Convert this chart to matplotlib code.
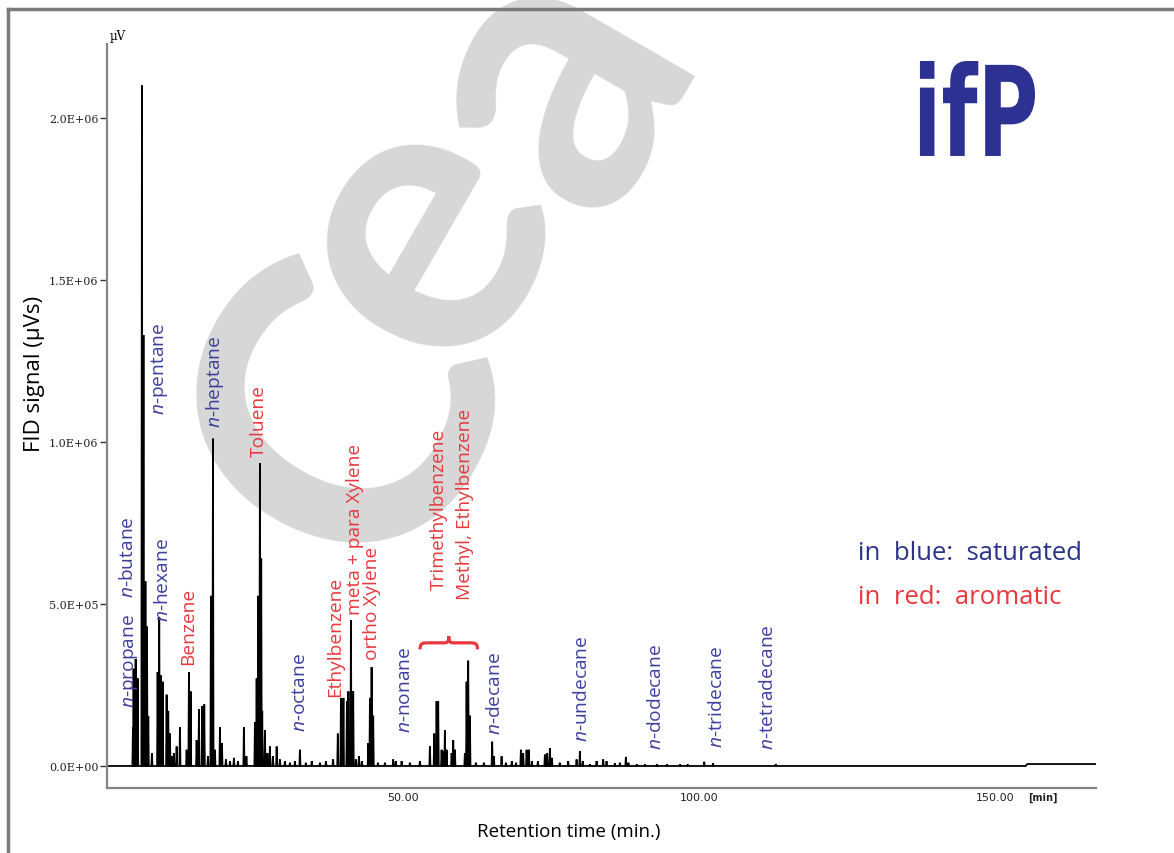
import numpy as np
import matplotlib.pyplot as plt
from matplotlib.path import Path
from matplotlib.patches import PathPatch
from matplotlib.textpath import TextPath
from matplotlib.font_manager import FontProperties
from matplotlib.transforms import Affine2D
from matplotlib.lines import Line2D
from matplotlib.ticker import FixedLocator, FixedFormatter

plt.rcParams['mathtext.fontset'] = 'custom'
plt.rcParams['mathtext.rm'] = 'Open Sans'
plt.rcParams['mathtext.it'] = 'Open Sans:italic'

# peaks: retention time (min) and height (x 1E+06 uV)
peak_time = [4.39, 4.50, 4.85, 5.19, 5.91, 6.17, 6.50, 6.76, 6.98, 7.60,
             8.56, 8.83, 9.07, 9.41, 10.08, 10.35, 10.64, 11.06, 11.30, 11.77,
             12.33, 13.46, 13.85, 14.14, 15.15, 15.54, 16.10, 16.44, 17.06, 17.57,
             17.91, 18.24, 19.09, 19.43, 20.10, 20.78, 21.45, 22.13, 23.14, 23.56,
             25.00, 25.29, 25.56, 25.84, 26.06, 26.23, 26.69, 27.11, 27.53, 28.04,
             28.67, 29.22, 30.07, 30.91, 31.76, 32.60, 33.60, 34.60, 35.98, 37.00,
             38.20, 39.00, 39.53, 39.95, 40.54, 40.79, 41.22, 41.60, 42.06, 42.57,
             43.07, 44.14, 44.43, 44.71, 44.98, 45.78, 46.96, 48.36, 48.80, 49.78,
             51.18, 52.87, 54.56, 55.29, 55.69, 55.96, 56.54, 56.81, 57.09, 57.38,
             58.23, 58.50, 58.78, 60.47, 60.76, 61.03, 61.32, 62.33, 63.68, 65.08,
             65.37, 66.67, 67.40, 68.40, 69.10, 69.93, 70.32, 70.90, 71.28, 71.80,
             72.80, 73.99, 74.37, 74.83, 75.17, 76.50, 77.92, 79.34, 79.90, 80.40,
             81.60, 82.72, 83.83, 84.40, 85.80, 86.66, 87.67, 88.10, 89.50, 90.90,
             92.90, 94.60, 96.80, 98.10, 100.90, 102.40, 113.00]
peak_height = [0.12, 0.30, 0.33, 0.27, 2.10, 1.33, 0.57, 0.43, 0.154, 0.04,
               0.29, 0.46, 0.28, 0.26, 0.22, 0.17, 0.10, 0.03, 0.04, 0.06,
               0.12, 0.05, 0.29, 0.23, 0.08, 0.175, 0.185, 0.19, 0.03, 0.525,
               1.01, 0.05, 0.12, 0.07, 0.02, 0.015, 0.025, 0.015, 0.12, 0.03,
               0.135, 0.27, 0.525, 0.935, 0.64, 0.17, 0.11, 0.04, 0.06, 0.03,
               0.06, 0.02, 0.015, 0.01, 0.015, 0.05, 0.01, 0.015, 0.01, 0.015,
               0.02, 0.10, 0.21, 0.21, 0.20, 0.23, 0.45, 0.23, 0.02, 0.03,
               0.015, 0.07, 0.21, 0.305, 0.155, 0.01, 0.01, 0.02, 0.015, 0.015,
               0.01, 0.015, 0.06, 0.10, 0.20, 0.20, 0.05, 0.045, 0.11, 0.05,
               0.04, 0.08, 0.05, 0.04, 0.26, 0.325, 0.155, 0.01, 0.01, 0.075,
               0.03, 0.03, 0.01, 0.015, 0.01, 0.05, 0.04, 0.05, 0.05, 0.015,
               0.015, 0.035, 0.04, 0.055, 0.025, 0.01, 0.015, 0.02, 0.045, 0.015,
               0.005, 0.015, 0.02, 0.015, 0.008, 0.01, 0.028, 0.01, 0.005, 0.005,
               0.005, 0.005, 0.005, 0.005, 0.013, 0.008, 0.006]
run_end = 167.0
step_time = 155.2
step_level = 0.006

# compound labels: text, time, bottom of label (x 1E+06), family
labels = ['n-propane', 'n-butane', 'n-pentane', 'n-hexane', 'Benzene', 'n-heptane',
          'Toluene', 'n-octane', 'Ethylbenzene', 'meta + para Xylene', 'ortho Xylene',
          'n-nonane', 'Trimethylbenzene', 'Methyl, Ethylbenzene', 'n-decane',
          'n-undecane', 'n-dodecane', 'n-tridecane', 'n-tetradecane']
label_time = [4.05, 3.55, 8.95, 9.46, 13.68, 18.24, 25.68, 32.6, 38.5, 41.9, 44.76,
              50.3, 56.1, 60.5, 65.5, 80.2, 92.7, 103.0, 111.7]
label_base = [0.182, 0.522, 1.086, 0.448, 0.315, 1.046, 0.957, 0.108, 0.216, 0.469,
              0.33, 0.105, 0.546, 0.515, 0.099, 0.077, 0.052, 0.059, 0.052]
label_kind = ['sat', 'sat', 'sat', 'sat', 'aro', 'sat', 'aro', 'sat', 'aro', 'aro',
              'aro', 'sat', 'aro', 'aro', 'sat', 'sat', 'sat', 'sat', 'sat']
brace_span = (52.9, 62.6)
brace_level = (0.36, 0.40)

y_ticks = [0.0, 0.5, 1.0, 1.5, 2.0]
y_tick_labels = ['0.0E+00', '5.0E+05', '1.0E+06', '1.5E+06', '2.0E+06']
x_ticks = [50, 100, 150]
x_tick_labels = ['50.00', '100.00', '150.00']

# watermark letters and where their centres sit (figure fractions)
mark_letters = ['C', 'e', 'a']
mark_x = [0.300, 0.353, 0.469]
mark_y = [0.510, 0.730, 0.907]

BLUE = '#3c3f9c'
RED = '#e8383d'
LEG_BLUE = '#2b3388'

fig = plt.figure(figsize=(11.74, 8.54), dpi=100)
fig.patch.set_facecolor('white')

# watermark behind everything
for ch, mx, my in zip(mark_letters, mark_x, mark_y):
    fig.text(mx, my, ch, fontsize=290, family='Lato', fontweight='bold',
             color='#d7d7d7', rotation=60, ha='center', va='center', zorder=0)

ax = fig.add_axes([0.0911, 0.0761, 0.8425, 0.8712])
ax.set_facecolor('none')
ax.set_zorder(2)

# build the trace as narrow spikes on a flat baseline
hw = 0.09
tx = [0.0]
ty = [0.0]
for t, h in zip(peak_time, peak_height):
    tx += [t - hw, t, t + hw]
    ty += [0.0, h * 1e6, 0.0]
tx += [step_time, step_time + 0.3, run_end]
ty += [0.0, step_level * 1e6, step_level * 1e6]
ax.plot(tx, ty, color='black', lw=1.3, solid_joinstyle='miter')

ax.set_xlim(0, 167.1)
ax.set_ylim(-0.068e6, 2.228e6)

for s in ['top', 'right']:
    ax.spines[s].set_visible(False)
for s in ['left', 'bottom']:
    ax.spines[s].set_color('#858585')
    ax.spines[s].set_linewidth(1.6)

ax.yaxis.set_major_locator(FixedLocator([v * 1e6 for v in y_ticks]))
ax.yaxis.set_major_formatter(FixedFormatter(y_tick_labels))
ax.xaxis.set_major_locator(FixedLocator(x_ticks))
ax.xaxis.set_major_formatter(FixedFormatter(x_tick_labels))
ax.tick_params(axis='y', direction='out', length=5, width=1, color='#333333',
               pad=1, labelsize=8, labelfontfamily='DejaVu Serif', labelcolor='#222222')
ax.tick_params(axis='x', length=0, pad=3, labelsize=8, labelcolor='#222222')

ax.text(0.003, 1.003, 'µV', transform=ax.transAxes, fontsize=8.5,
        family='DejaVu Serif', ha='left', va='bottom')
ax.text(0.946, -0.012, '[min]', transform=ax.transAxes, fontsize=7,
        fontweight='bold', ha='center', va='center', color='#222222')

for txt, t, b, k in zip(labels, label_time, label_base, label_kind):
    if txt.startswith('n-'):
        txt = r'$\it{n}$' + txt[1:]
    ax.text(t, b * 1e6, txt, rotation=90, ha='center', va='bottom',
            fontsize=13.8, family='Open Sans', color=BLUE if k == 'sat' else RED)

# brace over the trimethylbenzene group
x0, x1 = brace_span
y0, y1 = [v * 1e6 for v in brace_level]
u = [0, 0, 0.05, 0.15, 0.40, 0.47, 0.5, 0.5, 0.5, 0.53, 0.60, 0.85, 0.95, 1, 1]
v = [0, 0.5, 0.5, 0.5, 0.5, 0.5, 0.5, 1.0, 0.5, 0.5, 0.5, 0.5, 0.5, 0.5, 0]
codes = [Path.MOVETO, Path.CURVE4, Path.CURVE4, Path.CURVE4, Path.LINETO,
         Path.CURVE4, Path.CURVE4, Path.CURVE4, Path.CURVE4, Path.CURVE4, Path.CURVE4,
         Path.LINETO, Path.CURVE4, Path.CURVE4, Path.CURVE4]
verts = [(x0 + a * (x1 - x0), y0 + c * (y1 - y0)) for a, c in zip(u, v)]
ax.add_patch(PathPatch(Path(verts, codes), facecolor='none', edgecolor=RED, lw=2.3))

# axis titles
fig.text(0.4847, 0.0258, 'Retention time (min.)', fontsize=13.5, family='Open Sans',
         ha='center', va='center')
fig.text(0.0290, 0.5620, 'FID signal (µVs)', fontsize=16, family='Open Sans',
         rotation=90, ha='center', va='center')

# colour key
fig.text(0.7308, 1 - 553 / 854, 'in  blue:  saturated', fontsize=18.5,
         family='Open Sans', color=LEG_BLUE, ha='left', va='center')
fig.text(0.7308, 1 - 597 / 854, 'in  red:  aromatic', fontsize=18.5,
         family='Open Sans', color=RED, ha='left', va='center')

# logo squeezed into its box
tp = TextPath((0, 0), 'ifP', size=1, prop=FontProperties(family='DejaVu Sans', weight='bold'))
ext = tp.get_extents()
bx0, bx1, by0, by1 = 0.7836, 0.8816, 0.8162, 0.9274
sx = (bx1 - bx0) / ext.width
sy = (by1 - by0) / ext.height
tr = Affine2D().translate(-ext.x0, -ext.y0).scale(sx, sy).translate(bx0, by0) + fig.transFigure
fig.add_artist(PathPatch(tp, facecolor='#2d3192', edgecolor='none', transform=tr, zorder=3))

# page frame
fig.add_artist(Line2D([8 / 1174, 8 / 1174], [0, 1 - 10 / 854], color='#7a7a7a', lw=2.5))
fig.add_artist(Line2D([8 / 1174, 1], [1 - 10 / 854, 1 - 10 / 854], color='#7a7a7a', lw=2.5))

fig.savefig('out.png', dpi=100)
